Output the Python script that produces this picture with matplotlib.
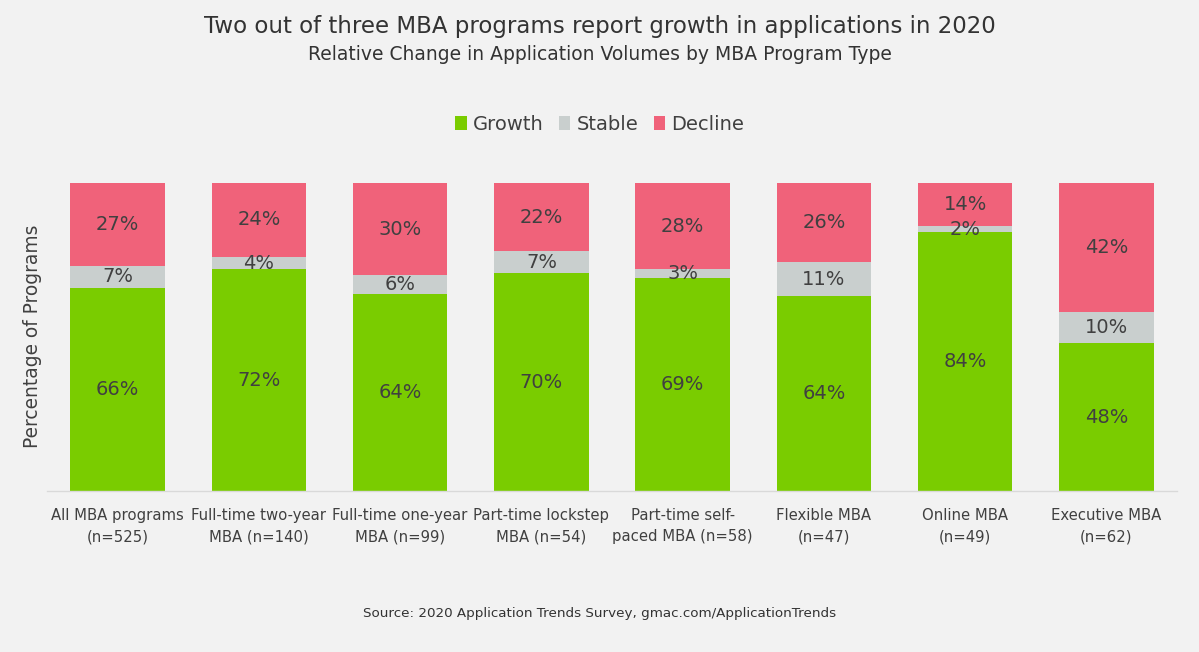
import matplotlib
matplotlib.use("Agg")
import matplotlib.pyplot as plt
import numpy as np

categories = ["All MBA programs\n(n=525)", "Full-time two-year\nMBA (n=140)",
              "Full-time one-year\nMBA (n=99)", "Part-time lockstep\nMBA (n=54)",
              "Part-time self-\npaced MBA (n=58)", "Flexible MBA\n(n=47)",
              "Online MBA\n(n=49)", "Executive MBA\n(n=62)"]
growth = [66, 72, 64, 70, 69, 64, 84, 48]
stable = [7, 4, 6, 7, 3, 11, 2, 10]
decline = [27, 24, 30, 22, 28, 26, 14, 42]
series_names = ["Growth", "Stable", "Decline"]

colors = ["#7ACC00", "#C9CFCE", "#F0627A"]
bg = "#F2F2F2"
txt = "#404040"

plt.rcParams['font.family'] = ['DejaVu Sans']

fig = plt.figure(figsize=(11.99, 6.52), dpi=100, facecolor=bg)
ax = fig.add_axes([47/1199, (652-491)/652, 1130/1199, (491-183)/652])
ax.set_facecolor(bg)

data = np.array([growth, stable, decline], dtype=float)
totals = data.sum(axis=0)
norm = data / totals * 100
x = np.arange(len(categories))
bottom = np.zeros(len(categories))
handles = []
for i, name in enumerate(series_names):
    b = ax.bar(x, norm[i], 0.67, bottom=bottom, color=colors[i], label=name, zorder=2)
    handles.append(b)
    for j in range(len(categories)):
        ax.text(x[j], bottom[j] + norm[i][j] / 2, f"{int(data[i][j])}%",
                ha="center", va="center", fontsize=14, color=txt, zorder=3)
    bottom += norm[i]

ax.set_xlim(-0.5, len(categories) - 0.5)
ax.set_ylim(0, 100)
ax.set_yticks([])
ax.set_xticks(x)
ax.set_xticklabels(categories, fontsize=10.7, color=txt, linespacing=1.55)
ax.tick_params(axis="x", length=0, pad=12)
for s in ["top", "right", "left"]:
    ax.spines[s].set_visible(False)
ax.spines["bottom"].set_color("#D9D9D9")
ax.spines["bottom"].set_linewidth(1)

fig.text(33/1199, 1 - 336/652, "Percentage of Programs", rotation=90, ha="center", va="center",
         fontsize=13.4, color=txt)

fig.text(0.5, 1 - 27/652, "Two out of three MBA programs report growth in applications in 2020",
         ha="center", va="center", fontsize=16.5, color="#333333")
fig.text(0.5, 1 - 55/652, "Relative Change in Application Volumes by MBA Program Type",
         ha="center", va="center", fontsize=13.5, color="#333333")
fig.text(0.5, 1 - 614/652, "Source: 2020 Application Trends Survey, gmac.com/ApplicationTrends",
         ha="center", va="center", fontsize=9.7, color="#333333")

leg = fig.legend(handles=handles, labels=series_names, loc="center",
                 bbox_to_anchor=(0.5, 1 - 124/652), ncol=3, frameon=False,
                 fontsize=14, handlelength=0.6, handleheight=0.7, handletextpad=0.3,
                 columnspacing=0.8, labelcolor=txt)

fig.savefig("out.png", dpi=100, facecolor=bg)
